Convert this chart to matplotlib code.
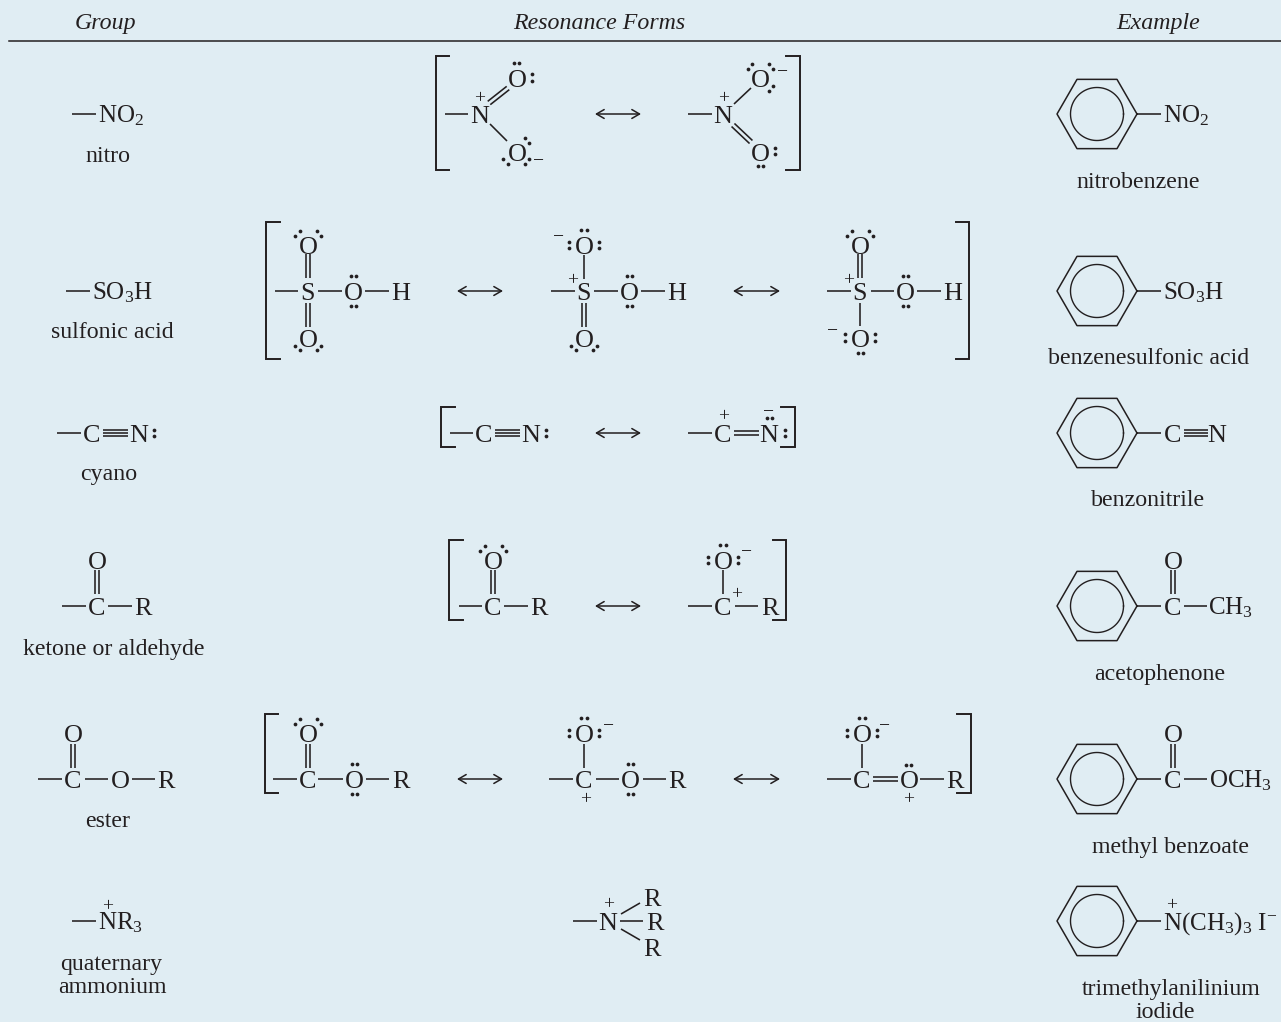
import matplotlib
matplotlib.use("Agg")
import numpy as np
import matplotlib.pyplot as plt

BG = "#e0edf3"
INK = "#231f20"
FS = 17.2
FS_ATOM = 18.8

HEADERS = ["Group", "Resonance Forms", "Example"]
GROUP_NAMES = ["nitro", "sulfonic acid", "cyano", "ketone or aldehyde", "ester", "quaternary", "ammonium"]
EXAMPLE_NAMES = ["nitrobenzene", "benzenesulfonic acid", "benzonitrile", "acetophenone",
                 "methyl benzoate", "trimethylanilinium", "iodide"]
ROW_Y = [114, 291, 433, 606, 779, 921]

plt.rcParams["font.family"] = ["Liberation Serif", "DejaVu Serif"]
plt.rcParams["mathtext.fontset"] = "custom"
plt.rcParams["mathtext.rm"] = "Liberation Serif"
plt.rcParams["mathtext.default"] = "rm"

fig = plt.figure(figsize=(12.81, 10.22), dpi=100, facecolor=BG)
ax = fig.add_axes([0, 0, 1, 1])
ax.set_xlim(0, 1281)
ax.set_ylim(1022, 0)
ax.axis("off")


def atom(x, y, s):
    ax.text(x, y + 8.6, s, ha="center", va="baseline", fontsize=FS_ATOM, color=INK)


def left(x, y, s):
    ax.text(x, y + 8.6, s, ha="left", va="baseline", fontsize=18, color=INK)


def label(x, base, s, style="normal"):
    ax.text(x, base, s, ha="center", va="baseline", fontsize=FS, color=INK, style=style)


def charge(x, y, s):
    ax.text(x, y + 6.4, s, ha="center", va="baseline", fontsize=14, color=INK)


def bond(x0, y0, x1, y1, n=1, gap=4.2):
    # n parallel strokes, spread perpendicular to the bond
    d = np.array([x1 - x0, y1 - y0], dtype=float)
    perp = np.array([-d[1], d[0]]) / np.hypot(*d)
    for k in np.arange(n) - (n - 1) / 2:
        off = perp * k * gap
        ax.plot([x0 + off[0], x1 + off[0]], [y0 + off[1], y1 + off[1]],
                color=INK, lw=1.15, solid_capstyle="butt")


def dots(*pts):
    xs, ys = zip(*pts)
    ax.plot(xs, ys, "o", color=INK, ms=2.7, mew=0)


def pair_h(x, y):
    dots((x - 2.6, y), (x + 2.6, y))


def pair_v(x, y):
    dots((x, y - 3.2), (x, y + 3.2))


def bracket(x, tip, top, bottom):
    ax.plot([tip, x, x, tip], [top, top, bottom, bottom], color=INK, lw=1.4,
            solid_joinstyle="miter")


def arrow(x0, x1, y):
    ax.annotate("", xy=(x1, y), xytext=(x0, y),
                arrowprops=dict(arrowstyle="<->,head_length=0.55,head_width=0.32",
                                color=INK, lw=1.1, shrinkA=0, shrinkB=0))


def ring(cy, cx=1097):
    ang = np.deg2rad(np.arange(0, 361, 60))
    ax.plot(cx + 40 * np.cos(ang), cy + 40 * np.sin(ang), color=INK, lw=1.1)
    t = np.linspace(0, 2 * np.pi, 100)
    ax.plot(cx + 26.5 * np.cos(t), cy + 26.5 * np.sin(t), color=INK, lw=1.0)
    bond(cx + 40, cy, cx + 64, cy)


def tetra_lp(x, y):
    # two lone pairs splayed over the top of a carbonyl type oxygen
    dots((x - 13, y - 9), (x - 8, y - 14), (x + 9, y - 14), (x + 13, y - 9))


def tetra_lp_low(x, y):
    dots((x - 13, y + 8), (x - 8, y + 12), (x + 9, y + 12), (x + 13, y + 8))


def oxide_up(x, y, minus_x=None, minus_y=None):
    # O with three lone pairs, pair on top and colons either side
    atom(x, y, "O")
    pair_h(x, y - 15)
    pair_v(x - 15, y)
    pair_v(x + 15, y)
    if minus_x is not None:
        charge(minus_x, minus_y, "\u2212")


def ether_o(x, y):
    atom(x, y, "O")
    pair_h(x, y - 15)
    pair_h(x, y + 15)


# header
for name, x in zip(HEADERS, [105, 599, 1158]):
    label(x, 29, name, style="italic")
ax.plot([9, 1281], [41, 41], color=INK, lw=1.1)

# group column
bond(72, ROW_Y[0], 96, ROW_Y[0])
left(98, ROW_Y[0], "NO$_{2}$")
label(108, 162, GROUP_NAMES[0])

bond(66, ROW_Y[1], 90, ROW_Y[1])
left(92, ROW_Y[1], "SO$_{3}$H")
label(112, 338, GROUP_NAMES[1])

bond(57, ROW_Y[2], 81, ROW_Y[2])
atom(92, ROW_Y[2], "C")
bond(103, ROW_Y[2], 128, ROW_Y[2], n=3, gap=3.4)
atom(139, ROW_Y[2], "N")
pair_v(154, ROW_Y[2])
label(109, 480, GROUP_NAMES[2])

bond(62, ROW_Y[3], 86, ROW_Y[3])
atom(97, ROW_Y[3], "C")
bond(97, 570, 97, 594, n=2)
atom(97, 560, "O")
bond(108, ROW_Y[3], 132, ROW_Y[3])
atom(143, ROW_Y[3], "R")
label(113.5, 655, GROUP_NAMES[3])

bond(38, ROW_Y[4], 62, ROW_Y[4])
atom(73, ROW_Y[4], "C")
bond(73, 744, 73, 768, n=2)
atom(73, 733, "O")
bond(85, ROW_Y[4], 108, ROW_Y[4])
atom(120, ROW_Y[4], "O")
bond(132, ROW_Y[4], 155, ROW_Y[4])
atom(166, ROW_Y[4], "R")
label(108, 827, GROUP_NAMES[4])

bond(72, ROW_Y[5], 96, ROW_Y[5])
left(98, ROW_Y[5], "NR$_{3}$")
charge(108, 905, "+")
label(111, 970, GROUP_NAMES[5])
label(112, 993, GROUP_NAMES[6])

# nitro resonance
bracket(436, 449, 56, 170)
bond(445, 114, 468, 114)
atom(480, 114, "N")
charge(480, 97, "+")
bond(489, 103, 508, 88, n=2)
atom(517, 78, "O")
pair_h(516.5, 63)
pair_v(531.5, 77.5)
bond(490, 124, 507, 141)
atom(517, 152, "O")
dots((525, 138), (529, 143), (529, 159), (525, 164), (503, 159), (508, 164))
charge(539, 160, "\u2212")
arrow(595, 641, 114)
bond(688, 114, 712, 114)
atom(723, 114, "N")
charge(724, 97, "+")
bond(734, 104, 751, 88)
atom(760, 78, "O")
dots((748, 69), (752, 64), (769, 64), (773, 69), (769, 91), (773, 86))
charge(783, 71, "\u2212")
bond(733, 125, 751, 142, n=2)
atom(760, 152, "O")
pair_v(775, 151)
pair_h(760.5, 166)
bracket(800, 786, 56, 170)

# sulfonic acid resonance
y = ROW_Y[1]
bracket(266, 280, 222, 359)
bond(275, y, 298, y)
atom(308, y, "S")
bond(308, 254, 308, 278, n=2)
atom(308, 245, "O")
tetra_lp(308, 245)
bond(308, 303, 308, 327, n=2)
atom(308, 338, "O")
tetra_lp_low(308, 338)
bond(318, y, 342, y)
ether_o(353.5, y)
bond(365, y, 389, y)
atom(401, y, "H")
arrow(457, 503, y)

bond(551, y, 575, y)
charge(573, 279, "+")
atom(584, y, "S")
bond(584, 255, 584, 279)
oxide_up(584, 245, 558, 236)
bond(584, 303, 584, 327, n=2)
atom(584, 338, "O")
tetra_lp_low(584, 338)
bond(594, y, 618, y)
ether_o(629.5, y)
bond(641, y, 665, y)
atom(677, y, "H")
arrow(733, 780, y)

bond(827, y, 851, y)
charge(849, 279, "+")
atom(860, y, "S")
bond(860, 254, 860, 278, n=2)
atom(860, 245, "O")
tetra_lp(860, 245)
bond(860, 303, 860, 326)
atom(860, 338, "O")
pair_v(845, 337.5)
pair_v(875, 337.5)
pair_h(860.5, 353)
charge(833, 330, "\u2212")
bond(871, y, 894, y)
ether_o(905.5, y)
bond(917, y, 941, y)
atom(953, y, "H")
bracket(969, 956, 222, 359)

# cyano resonance
y = ROW_Y[2]
bracket(441, 455, 407, 447)
bond(450, y, 473, y)
atom(484, y, "C")
bond(495, y, 520, y, n=3, gap=3.4)
atom(531, y, "N")
pair_v(546, y)
arrow(595, 641, y)
bond(688, y, 712, y)
atom(723, y, "C")
charge(724, 415, "+")
bond(734, y, 759, y, n=2)
atom(769, y, "N")
pair_h(769.5, 418)
charge(769, 411, "\u2212")
pair_v(785, y)
bracket(795, 781, 407, 447)

# ketone resonance
y = ROW_Y[3]
bracket(449, 463, 540, 620)
bond(459, y, 482, y)
atom(493, y, "C")
bond(493, 570, 493, 594, n=2)
atom(493, 560, "O")
tetra_lp(493, 560)
bond(504, y, 528, y)
atom(539, y, "R")
arrow(595, 641, y)
bond(688, y, 712, y)
atom(723, y, "C")
bond(723, 570, 723, 594)
oxide_up(723, 560, 747, 551)
charge(737, 593, "+")
bond(735, y, 758, y)
atom(770, y, "R")
bracket(786, 773, 540, 620)

# ester resonance
y = ROW_Y[4]
bracket(265, 278, 714, 793)
bond(273, y, 297, y)
atom(308, y, "C")
bond(308, 744, 308, 768, n=2)
atom(308, 733, "O")
tetra_lp(308, 733)
bond(318, y, 343, y)
ether_o(354.5, y)
bond(366, y, 389, y)
atom(401, y, "R")
arrow(457, 503, y)

bond(549, y, 573, y)
atom(584, y, "C")
bond(584, 744, 584, 768)
oxide_up(584, 733, 608, 725)
charge(586, 798, "+")
bond(596, y, 619, y)
ether_o(630.5, y)
bond(643, y, 666, y)
atom(677, y, "R")
arrow(733, 780, y)

bond(827, y, 851, y)
atom(862, y, "C")
bond(862, 744, 862, 768)
oxide_up(862, 733, 885, 725)
bond(873, y, 898, y, n=2)
atom(909, y, "O")
pair_h(908.5, 765)
charge(909, 798, "+")
bond(920, y, 944, y)
atom(955, y, "R")
bracket(971, 957, 714, 793)

# quaternary ammonium
y = ROW_Y[5]
bond(573, y, 597, y)
atom(608, y, "N")
charge(609, 903, "+")
bond(621, 914, 640, 903)
atom(652, 897, "R")
bond(620, y, 643, y)
atom(655, y, "R")
bond(621, 929, 640, 940)
atom(652, 947, "R")

# examples
for cy in ROW_Y:
    ring(cy)
left(1163, ROW_Y[0], "NO$_{2}$")
label(1138, 188, EXAMPLE_NAMES[0])
left(1163, ROW_Y[1], "SO$_{3}$H")
label(1149, 364, EXAMPLE_NAMES[1])
atom(1173, ROW_Y[2], "C")
bond(1184, ROW_Y[2], 1208, ROW_Y[2], n=3, gap=3.4)
atom(1217, ROW_Y[2], "N")
label(1148, 506, EXAMPLE_NAMES[2])
atom(1173, ROW_Y[3], "C")
bond(1173, 570, 1173, 594, n=2)
atom(1173, 560, "O")
bond(1184, ROW_Y[3], 1207, ROW_Y[3])
left(1208, ROW_Y[3], "CH$_{3}$")
label(1160, 680, EXAMPLE_NAMES[3])
atom(1173, ROW_Y[4], "C")
bond(1173, 744, 1173, 768, n=2)
atom(1173, 733, "O")
bond(1184, ROW_Y[4], 1207, ROW_Y[4])
left(1209, ROW_Y[4], "OCH$_{3}$")
label(1170, 853, EXAMPLE_NAMES[4])
left(1163, ROW_Y[5], "N(CH$_{3}$)$_{3}$ I$^{-}$")
charge(1172, 904, "+")
label(1171, 995, EXAMPLE_NAMES[5])
label(1165, 1018, EXAMPLE_NAMES[6])

fig.savefig("out.png", dpi=100, facecolor=BG)
